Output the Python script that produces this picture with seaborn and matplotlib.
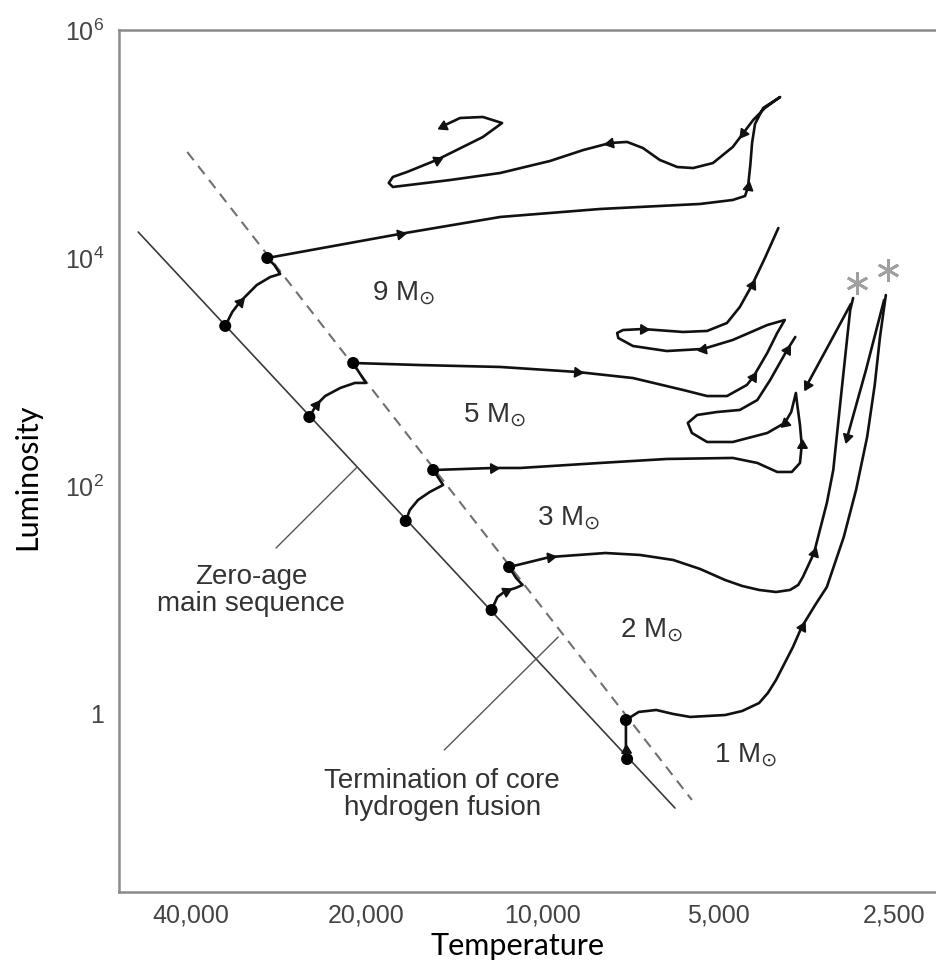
import numpy as np
import pandas as pd
import matplotlib
matplotlib.use("Agg")
import matplotlib.pyplot as plt
import seaborn as sns

# all values as log10 T (K) and log10 L (L_sun)

zams_logT = [4.692, 3.773]
zams_logL = [4.228, -0.825]
tams_logT = [4.608, 3.744]
tams_logL = [4.930, -0.754]

m9_logT = [4.543, 4.531, 4.518, 4.489, 4.466, 4.449, 4.459, 4.471, 4.244, 4.072,
           3.901, 3.730, 3.674, 3.653, 3.648, 3.644, 3.641, 3.636, 3.622, 3.593,
           3.619, 3.639, 3.656, 3.674, 3.708, 3.742, 3.769, 3.799, 3.828, 3.855,
           3.884, 3.930, 3.987, 4.072, 4.158, 4.256, 4.263, 4.256, 4.232, 4.181,
           4.102, 4.069, 4.102, 4.141, 4.170]
m9_logL = [3.404, 3.526, 3.614, 3.763, 3.833, 3.860, 3.939, 4.000, 4.211, 4.360,
           4.430, 4.474, 4.509, 4.544, 4.623, 4.816, 5.009, 5.175, 5.316, 5.412,
           5.316, 5.211, 5.096, 4.974, 4.833, 4.789, 4.798, 4.860, 4.965, 5.018,
           5.009, 4.947, 4.851, 4.746, 4.684, 4.623, 4.658, 4.711, 4.754, 4.860,
           5.061, 5.184, 5.237, 5.228, 5.158]
m9_dots = [0, 7]
m9_arrows = [2, 8, 14, 22, 30, 39, 44]

m5_logT = [4.399, 4.387, 4.372, 4.346, 4.321, 4.302, 4.312, 4.324, 4.210, 4.072,
           3.940, 3.845, 3.759, 3.718, 3.684, 3.650, 3.639, 3.615, 3.598, 3.585,
           3.615, 3.674, 3.725, 3.787, 3.845, 3.870, 3.872, 3.862, 3.828, 3.759,
           3.718, 3.684, 3.662, 3.641, 3.619, 3.596]
m5_logL = [2.605, 2.711, 2.789, 2.860, 2.904, 2.904, 2.982, 3.079, 3.061, 3.044,
           3.000, 2.947, 2.842, 2.789, 2.789, 2.886, 2.956, 3.167, 3.342, 3.456,
           3.412, 3.281, 3.202, 3.184, 3.228, 3.298, 3.342, 3.368, 3.377, 3.351,
           3.360, 3.430, 3.570, 3.763, 4.000, 4.263]
m5_dots = [0, 7]
m5_arrows = [1, 10, 16, 22, 28, 33]

m3_logT = [4.234, 4.227, 4.213, 4.193, 4.170, 4.179, 4.187, 4.084, 4.038, 3.901,
           3.787, 3.674, 3.632, 3.598, 3.573, 3.559, 3.556, 3.559, 3.564, 3.566,
           3.574, 3.585, 3.615, 3.674, 3.718, 3.744, 3.751, 3.735, 3.701, 3.662,
           3.632, 3.610, 3.581, 3.567]
m3_logL = [1.693, 1.789, 1.877, 1.947, 2.009, 2.079, 2.140, 2.158, 2.158, 2.202,
           2.237, 2.246, 2.202, 2.123, 2.123, 2.202, 2.360, 2.535, 2.728, 2.816,
           2.649, 2.553, 2.465, 2.386, 2.386, 2.465, 2.553, 2.623, 2.649, 2.667,
           2.754, 2.930, 3.193, 3.307]
m3_dots = [0, 6]
m3_arrows = [7, 16, 21, 32]

m2_logT = [4.087, 4.077, 4.063, 4.046, 4.034, 4.045, 4.057, 3.987, 3.892, 3.833,
           3.776, 3.730, 3.687, 3.658, 3.629, 3.600, 3.576, 3.562, 3.554, 3.535,
           3.513, 3.502, 3.490, 3.478, 3.473, 3.468]
m2_logL = [0.912, 1.026, 1.079, 1.105, 1.132, 1.193, 1.289, 1.377, 1.412, 1.395,
           1.351, 1.272, 1.175, 1.123, 1.088, 1.070, 1.088, 1.132, 1.202, 1.412,
           1.851, 2.140, 2.728, 3.307, 3.544, 3.649]
m2_dots = [0, 6]
m2_arrows = [2, 7, 19]
m2_drop_logT = [3.472, 3.508, 3.547]
m2_drop_logL = [3.596, 3.254, 2.886]

m1_logT = [3.855, 3.857, 3.857, 3.835, 3.805, 3.776, 3.747, 3.687, 3.658, 3.629,
           3.614, 3.600, 3.571, 3.556, 3.533, 3.513, 3.484, 3.463, 3.444, 3.431,
           3.422, 3.412]
m1_logL = [-0.395, -0.316, -0.053, 0.018, 0.035, 0.000, -0.026, -0.009, 0.026, 0.096,
           0.184, 0.298, 0.588, 0.763, 0.956, 1.114, 1.553, 1.965, 2.430, 2.886,
           3.307, 3.675]
m1_dots = [0, 2]
m1_arrows = [1, 13]
m1_drop_logT = [3.415, 3.446, 3.478]
m1_drop_logL = [3.632, 3.018, 2.430]

flash_logT = [3.461, 3.408]
flash_logL = [3.781, 3.895]

zams_pointer_logT = [4.317, 4.456]
zams_pointer_logL = [2.167, 1.456]
tams_pointer_logT = [3.973, 4.168]
tams_pointer_logL = [0.675, -0.316]

x_ticks = [40000, 20000, 10000, 5000, 2500]
x_labels = ["40,000", "20,000", "10,000", "5,000", "2,500"]
y_ticks = [1, 1e2, 1e4, 1e6]
y_labels = ["1", r"$\mathregular{10^2}$", r"$\mathregular{10^4}$", r"$\mathregular{10^6}$"]

sns.set_style("white")
plt.rcParams["font.family"] = ["Liberation Sans", "DejaVu Sans"]
plt.rcParams["mathtext.fontset"] = "dejavusans"

fig = plt.figure(figsize=(9.36, 9.63), dpi=100)
ax = fig.add_axes([0.1275, 0.07321, 0.877, 0.89564])
ax.set_xscale("log")
ax.set_yscale("log")
ax.set_xlim(10 ** 4.7243, 10 ** 3.3189)
ax.set_ylim(10 ** -1.566, 1e6)


def to_df(name, logT, logL):
    return pd.DataFrame({"track": name,
                         "T": 10 ** np.array(logT),
                         "L": 10 ** np.array(logL),
                         "step": np.arange(len(logT))})


tracks = pd.concat([
    to_df("9", m9_logT, m9_logL),
    to_df("5", m5_logT, m5_logL),
    to_df("3", m3_logT, m3_logL),
    to_df("2", m2_logT, m2_logL),
    to_df("1", m1_logT, m1_logL),
    to_df("2 drop", m2_drop_logT, m2_drop_logL),
    to_df("1 drop", m1_drop_logT, m1_drop_logL),
])

# main sequence lines
sns.lineplot(data=to_df("zams", zams_logT, zams_logL), x="T", y="L", sort=False,
             estimator=None, color="#3a3a3a", lw=1.2, ax=ax)
sns.lineplot(data=to_df("tams", tams_logT, tams_logL), x="T", y="L", sort=False,
             estimator=None, color="#707070", lw=1.5, ax=ax)
ax.lines[-1].set_dashes((5, 3.5))

# pointer lines for the labels
for lt, ll in [(zams_pointer_logT, zams_pointer_logL), (tams_pointer_logT, tams_pointer_logL)]:
    ax.plot(10 ** np.array(lt), 10 ** np.array(ll), color="#555555", lw=1.0)

sns.lineplot(data=tracks, x="T", y="L", units="track", estimator=None, sort=False,
             color="#111111", lw=1.9, solid_joinstyle="round", solid_capstyle="round", ax=ax)

# dots at zero-age and end of core hydrogen burning
dot_T, dot_L = [], []
for lt, ll, d in [(m9_logT, m9_logL, m9_dots), (m5_logT, m5_logL, m5_dots),
                  (m3_logT, m3_logL, m3_dots), (m2_logT, m2_logL, m2_dots),
                  (m1_logT, m1_logL, m1_dots)]:
    for i in d:
        dot_T.append(10 ** lt[i])
        dot_L.append(10 ** ll[i])
sns.scatterplot(x=dot_T, y=dot_L, s=75, color="black", edgecolor="none", ax=ax, zorder=5)

# helium flash stars
ax.plot(10 ** np.array(flash_logT), 10 ** np.array(flash_logL), ls="none",
        marker=(6, 2, 0), ms=16, mew=2.0, mec="#a0a0a0", zorder=5)


def arrow_marks(logT, logL, idx):
    pts = ax.transData.transform(np.column_stack([10 ** np.array(logT), 10 ** np.array(logL)]))
    for i in idx:
        a = pts[max(i - 1, 0)]
        b = pts[min(i + 1, len(pts) - 1)]
        ang = np.degrees(np.arctan2(b[1] - a[1], b[0] - a[0]))
        ax.plot(10 ** logT[i], 10 ** logL[i], ls="none", marker=(3, 0, ang - 90),
                ms=8, color="#111111", zorder=6)


arrow_marks(m9_logT, m9_logL, m9_arrows)
arrow_marks(m5_logT, m5_logL, m5_arrows)
arrow_marks(m3_logT, m3_logL, m3_arrows)
arrow_marks(m2_logT, m2_logL, m2_arrows)
arrow_marks(m1_logT, m1_logL, m1_arrows)
arrow_marks(m2_drop_logT, m2_drop_logL, [2])
arrow_marks(m1_drop_logT, m1_drop_logL, [2])

# text labels
txt = dict(transform=ax.transAxes, color="#333333")
ax.text(0.1605, 0.3507, "Zero-age\nmain sequence", ha="center", va="center",
        fontsize=20, linespacing=1.05, **txt)
ax.text(0.3932, 0.1142, "Termination of core\nhydrogen fusion", ha="center", va="center",
        fontsize=20, linespacing=1.05, **txt)
for xf, yf, m in [(0.3079, 0.6870, "9"), (0.4188, 0.5455, "5"), (0.509, 0.4261, "3"),
                  (0.6101, 0.2962, "2"), (0.7246, 0.1513, "1")]:
    ax.text(xf, yf, m + r" M$_{\odot}$", ha="left", va="baseline", fontsize=20, **txt)

# axes styling
ax.xaxis.set_major_locator(matplotlib.ticker.FixedLocator(x_ticks))
ax.xaxis.set_minor_locator(matplotlib.ticker.NullLocator())
ax.set_xticklabels(x_labels)
ax.yaxis.set_major_locator(matplotlib.ticker.FixedLocator(y_ticks))
ax.yaxis.set_minor_locator(matplotlib.ticker.NullLocator())
ax.set_yticklabels(y_labels)
ax.tick_params(direction="in", length=15, width=1.0, color="#555555",
               labelcolor="#444444", labelsize=18)
ax.tick_params(axis="x", pad=8)
ax.tick_params(axis="y", pad=11)
for side in ["left", "bottom", "top"]:
    ax.spines[side].set_color("#8a8a8a")
    ax.spines[side].set_linewidth(1.8)
ax.spines["right"].set_visible(False)
ax.set_xlabel("")
ax.set_ylabel("")

fig.text(0.553, 0.0177, "Temperature", ha="center", va="center", fontsize=22,
         family=["Lato", "DejaVu Sans"], color="black")
fig.text(0.029, 0.505, "Luminosity", ha="center", va="center", rotation=90,
         fontsize=22, family=["Lato", "DejaVu Sans"], color="black")

fig.savefig("out.png", dpi=100)
